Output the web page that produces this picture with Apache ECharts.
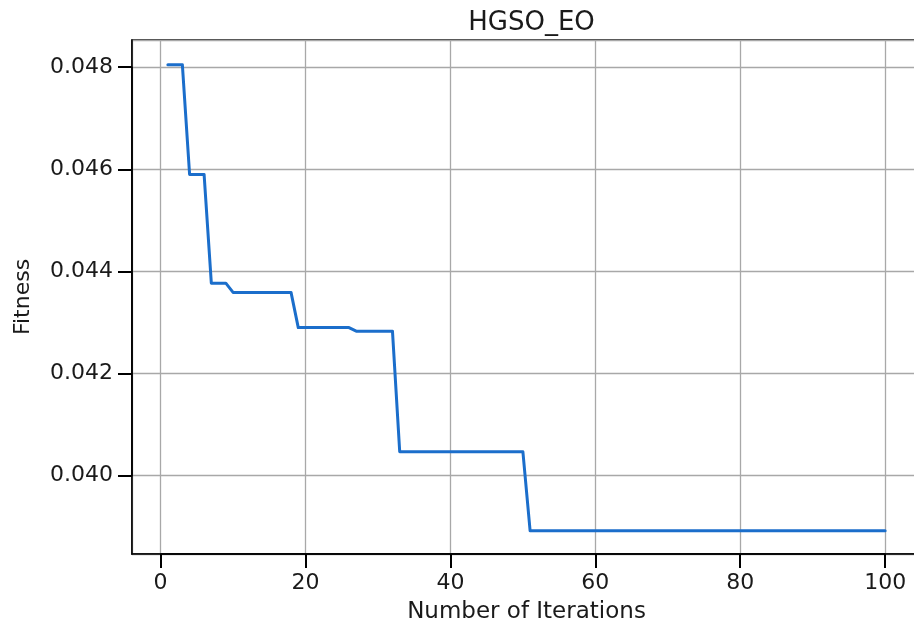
<!DOCTYPE html>
<html>
<head>
<meta charset="utf-8">
<title>HGSO_EO</title>
<script src="https://cdn.jsdelivr.net/npm/echarts@6/dist/echarts.min.js"></script>
<style>
    html, body { margin: 0; padding: 0; background: #fff; }
    #main { width: 914px; height: 630px; }
</style>
</head>
<body>
<div id="main"></div>
<script>
// iteration number (x) and best fitness (y)
let iterations = [
    1, 2, 3, 4, 5, 6, 7, 8, 9, 10,
    11, 12, 13, 14, 15, 16, 17, 18, 19, 20,
    21, 22, 23, 24, 25, 26, 27, 28, 29, 30,
    31, 32, 33, 34, 35, 36, 37, 38, 39, 40,
    41, 42, 43, 44, 45, 46, 47, 48, 49, 50,
    51, 52, 53, 54, 55, 56, 57, 58, 59, 60,
    61, 62, 63, 64, 65, 66, 67, 68, 69, 70,
    71, 72, 73, 74, 75, 76, 77, 78, 79, 80,
    81, 82, 83, 84, 85, 86, 87, 88, 89, 90,
    91, 92, 93, 94, 95, 96, 97, 98, 99, 100
];
let fitness = [
    0.04805, 0.04805, 0.04805, 0.04590, 0.04590, 0.04590, 0.04377, 0.04377, 0.04377, 0.04359,
    0.04359, 0.04359, 0.04359, 0.04359, 0.04359, 0.04359, 0.04359, 0.04359, 0.04290, 0.04290,
    0.04290, 0.04290, 0.04290, 0.04290, 0.04290, 0.04290, 0.04283, 0.04283, 0.04283, 0.04283,
    0.04283, 0.04283, 0.04047, 0.04047, 0.04047, 0.04047, 0.04047, 0.04047, 0.04047, 0.04047,
    0.04047, 0.04047, 0.04047, 0.04047, 0.04047, 0.04047, 0.04047, 0.04047, 0.04047, 0.04047,
    0.03892, 0.03892, 0.03892, 0.03892, 0.03892, 0.03892, 0.03892, 0.03892, 0.03892, 0.03892,
    0.03892, 0.03892, 0.03892, 0.03892, 0.03892, 0.03892, 0.03892, 0.03892, 0.03892, 0.03892,
    0.03892, 0.03892, 0.03892, 0.03892, 0.03892, 0.03892, 0.03892, 0.03892, 0.03892, 0.03892,
    0.03892, 0.03892, 0.03892, 0.03892, 0.03892, 0.03892, 0.03892, 0.03892, 0.03892, 0.03892,
    0.03892, 0.03892, 0.03892, 0.03892, 0.03892, 0.03892, 0.03892, 0.03892, 0.03892, 0.03892
];
// axis ranges (matplotlib-style 5% margins) and tick labels
let xRange = [-3.95, 104.95];
let yRange = [0.038466, 0.048533];
let xTicks = [0, 20, 40, 60, 80, 100];
let yTicks = [0.040, 0.042, 0.044, 0.046, 0.048];

let W = 914, H = 630;
// plot box; its right edge runs a few px past the picture, as in the original
let plot = { left: 132, top: 40, width: 789, height: 514 };

// second grid spanning exactly the tick range, used only for ticks + labels
let tx0 = plot.left + (xTicks[0] - xRange[0]) / (xRange[1] - xRange[0]) * plot.width;
let tx1 = plot.left + (xTicks[xTicks.length - 1] - xRange[0]) / (xRange[1] - xRange[0]) * plot.width;
let ty0 = plot.top + (yRange[1] - yTicks[yTicks.length - 1]) / (yRange[1] - yRange[0]) * plot.height;
let ty1 = plot.top + (yRange[1] - yTicks[0]) / (yRange[1] - yRange[0]) * plot.height;

let myChart = echarts.init(document.getElementById('main'), null, { renderer: 'canvas' });

let font = 'DejaVu Sans';
let textColor = '#1a1a1a';
let gridColor = '#a8a8a8';
let tick = { show: true, inside: false, length: 14, lineStyle: { color: '#000000', width: 2, opacity: 1 } };

let option = {
    animation: false,
    backgroundColor: '#fff',
    title: {
        text: 'HGSO_EO',
        left: plot.left + plot.width / 2,
        top: 5,
        textAlign: 'center',
        textStyle: { fontFamily: font, fontSize: 26, fontWeight: 'normal', color: textColor }
    },
    grid: [
        {
            left: plot.left, top: plot.top, width: plot.width, height: plot.height,
            outerBoundsMode: 'none',
            containLabel: false,
            show: true,
            borderColor: '#000',
            borderWidth: 1.5
        },
        {
            left: tx0, top: ty0, width: tx1 - tx0, height: ty1 - ty0,
            outerBoundsMode: 'none',
            containLabel: false,
            show: false
        }
    ],
    xAxis: [
        {
            gridIndex: 0,
            type: 'value',
            min: xRange[0],
            max: xRange[1],
            splitNumber: 5,
            name: 'Number of Iterations',
            nameLocation: 'middle',
            nameGap: 47,
            nameTextStyle: { fontFamily: font, fontSize: 23, color: textColor },
            axisLine: { show: true, onZero: false, lineStyle: { color: '#000', width: 1.5 } },
            axisTick: { show: false },
            axisLabel: { show: false },
            splitLine: { show: true, lineStyle: { color: gridColor, width: 1.3 } }
        },
        {
            gridIndex: 1,
            type: 'value',
            min: xTicks[0],
            max: xTicks[xTicks.length - 1],
            interval: xTicks[1] - xTicks[0],
            position: 'bottom',
            offset: (plot.top + plot.height) - ty1,
            axisLine: { show: true, onZero: false, lineStyle: { color: '#000', width: 1.5 } },
            axisTick: tick,
            splitLine: { show: false },
            axisLabel: {
                margin: 18,
                fontFamily: font,
                fontSize: 22,
                color: textColor
            }
        }
    ],
    yAxis: [
        {
            gridIndex: 0,
            type: 'value',
            min: yRange[0],
            max: yRange[1],
            splitNumber: 5,
            name: 'Fitness',
            nameLocation: 'middle',
            nameGap: 98,
            nameTextStyle: { fontFamily: font, fontSize: 22, color: textColor },
            axisLine: { show: true, onZero: false, lineStyle: { color: '#000', width: 1.5 } },
            axisTick: { show: false },
            axisLabel: { show: false },
            splitLine: { show: true, lineStyle: { color: gridColor, width: 1.3 } }
        },
        {
            gridIndex: 1,
            type: 'value',
            min: yTicks[0],
            max: yTicks[yTicks.length - 1],
            interval: 0.002,
            position: 'left',
            offset: tx0 - plot.left,
            axisLine: { show: true, onZero: false, lineStyle: { color: '#000', width: 1.5 } },
            axisTick: tick,
            splitLine: { show: false },
            axisLabel: {
                margin: 19,
                fontFamily: font,
                fontSize: 22,
                color: textColor,
                formatter: (v) => v.toFixed(3)
            }
        }
    ],
    series: [
        {
            name: 'HGSO_EO',
            type: 'line',
            xAxisIndex: 0,
            yAxisIndex: 0,
            data: iterations.map((it, i) => [it, fitness[i]]),
            showSymbol: false,
            symbol: 'none',
            smooth: false,
            lineStyle: { color: '#1b6ecb', width: 3, cap: 'round', join: 'round' }
        }
    ]
};
myChart.setOption(option);
</script>
</body>
</html>
